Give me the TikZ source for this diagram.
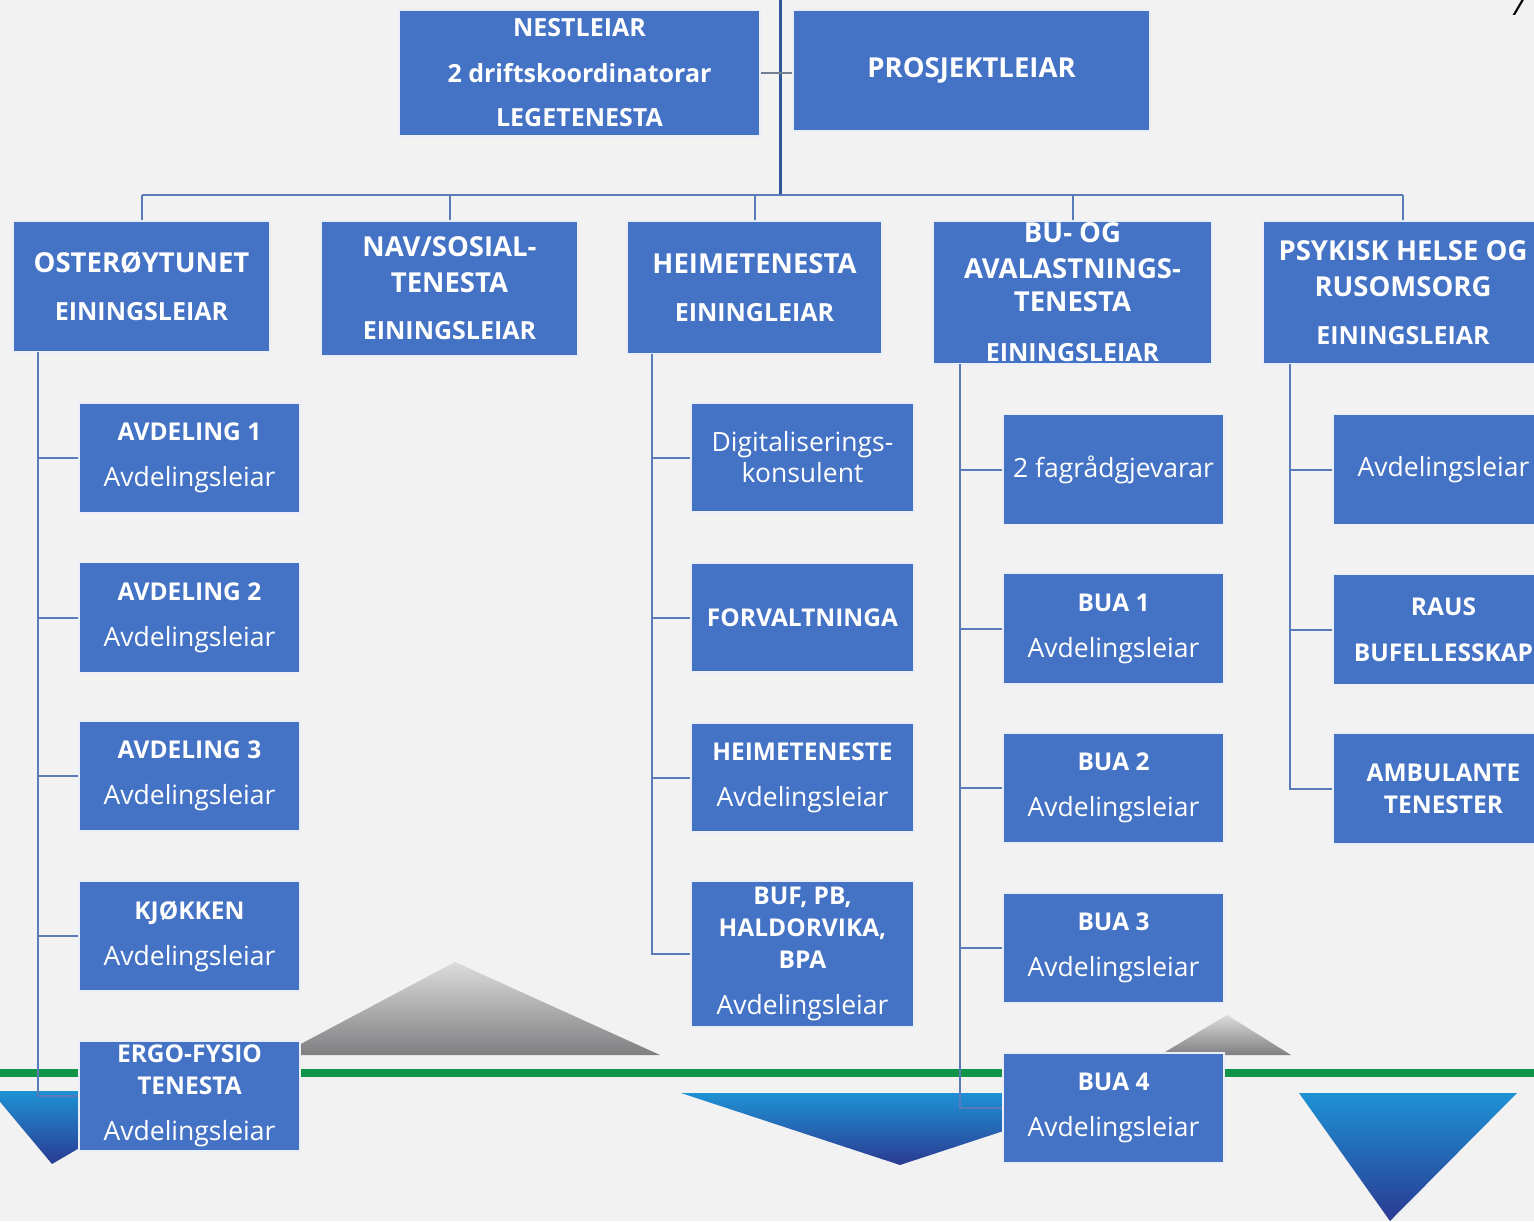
\documentclass[tikz,border=0pt]{standalone}
\usepackage{fontspec}
\setmainfont{Open Sans}
\definecolor{bg}{HTML}{F2F2F2}
\definecolor{boxblue}{HTML}{4472C4}
\definecolor{conn}{HTML}{5A7BBA}
\definecolor{trunk}{HTML}{2F5597}
\definecolor{lineg}{HTML}{109447}
\definecolor{greyT}{HTML}{DCDCDC}
\definecolor{greyB}{HTML}{7F7F81}
\definecolor{blueT}{HTML}{1E92D4}
\definecolor{blueB}{HTML}{2B3A92}
\newcommand\bt[1]{{\fontsize{24.5}{32}\selectfont\bfseries #1}}
\newcommand\sml[1]{{\fontsize{25}{33}\selectfont #1}}
\begin{document}
\begin{tikzpicture}[x=1pt,y=-1pt,
  box/.style={fill=boxblue, draw=white!88!boxblue, line width=1.2pt, text=white, align=center, inner sep=0pt, anchor=center},
  hd/.style={font=\fontsize{27.5}{36}\selectfont\bfseries},
  ch/.style={font=\fontsize{26.5}{32}\selectfont},
  cw/.style={minimum width=221pt, minimum height=110pt},
  conline/.style={draw=conn, line width=2pt},
  trunkline/.style={draw=trunk, line width=3pt}]
\clip (0,0) rectangle (1534,1221);
\fill[bg] (0,0) rectangle (1534,1221);
% decorative triangles
\shade[top color=greyT, bottom color=greyB] (455,962) -- (660,1055) -- (280,1055) -- cycle;
\shade[top color=greyT, bottom color=greyB] (1227,1015) -- (1291,1055) -- (1160,1055) -- cycle;
\shade[top color=blueT, bottom color=blueB] (-9,1091) -- (177,1091) -- (52,1164) -- cycle;
\shade[top color=blueT, bottom color=blueB] (681,1093) -- (1119,1093) -- (900,1165) -- cycle;
\shade[top color=blueT, bottom color=blueB] (1299,1093) -- (1517,1093) -- (1390,1221) -- cycle;
% green line
\fill[lineg] (0,1069) rectangle (1534,1077);
% page number fragment
\node[anchor=base west, inner sep=0pt, font=\fontsize{30}{30}\selectfont\itshape, text=black] (pg) at (1510,15) {7};
% top row
\node[box, font=\fontsize{25}{46}\selectfont\bfseries, minimum width=361pt, minimum height=126pt] (nest) at (579.5,73)
  {NESTLEIAR\\2 driftskoordinatorar\\[-2pt]LEGETENESTA};
\node[box, font=\fontsize{27.5}{33}\selectfont\bfseries, minimum width=357pt, minimum height=121pt] (pros) at (971.5,70.5)
  {PROSJEKTLEIAR};
% level 2
\node[box, hd, minimum width=257pt, minimum height=131pt] (oster) at (141.5,286.5) {OSTERØYTUNET\\[12pt]\sml{EININGSLEIAR}};
\node[box, hd, minimum width=257pt, minimum height=135pt] (nav) at (449.5,288.5) {NAV/SOSIAL-\\TENESTA\\[11pt]\sml{EININGSLEIAR}};
\node[box, hd, minimum width=255pt, minimum height=133pt] (heim) at (754.5,287.5) {HEIMETENESTA\\[12pt]\sml{EININGLEIAR}};
\node[box, hd, minimum width=279pt, minimum height=143pt] (bu) at (1072.5,292.5) {BU- OG\\AVALASTNINGS-\\[-3pt]TENESTA\\[14pt]\sml{EININGSLEIAR}};
\node[box, hd, minimum width=280pt, minimum height=143pt] (psyk) at (1403,292.5) {PSYKISK HELSE OG\\RUSOMSORG\\[12pt]\sml{EININGSLEIAR}};
% Osterøytunet children
\node[box, ch, cw] (av1) at (189.5,458) {\bt{AVDELING 1}\\[14pt]Avdelingsleiar};
\node[box, ch, cw] (av2) at (189.5,617.5) {\bt{AVDELING 2}\\[14pt]Avdelingsleiar};
\node[box, ch, cw] (av3) at (189.5,776) {\bt{AVDELING 3}\\[14pt]Avdelingsleiar};
\node[box, ch, cw] (kjo) at (189.5,936) {\bt{KJØKKEN}\\[14pt]Avdelingsleiar};
\node[box, ch, cw] (ergo) at (189.5,1096) {\bt{ERGO-FYSIO}\\\bt{TENESTA}\\[14pt]Avdelingsleiar};
% Heimetenesta children
\node[box, ch, minimum width=223pt, minimum height=109pt] (dig) at (802.5,457.5) {Digitaliserings-\\[-1pt]konsulent};
\node[box, ch, minimum width=223pt, minimum height=109pt] (forv) at (802.5,617.5) {\bt{FORVALTNINGA}};
\node[box, ch, minimum width=223pt, minimum height=109pt] (heimt) at (802.5,777.5) {\bt{HEIMETENESTE}\\[14pt]Avdelingsleiar};
\node[box, ch, minimum width=223pt, minimum height=146pt] (buf) at (802.5,954) {\bt{BUF, PB,}\\\bt{HALDORVIKA,}\\\bt{BPA}\\[14pt]Avdelingsleiar};
% BU children
\node[box, ch, cw] (fag) at (1113.5,469.5) {2 fagrådgjevarar};
\node[box, ch, cw, minimum height=111pt] (bua1) at (1113.5,628.5) {\bt{BUA 1}\\[14pt]Avdelingsleiar};
\node[box, ch, cw] (bua2) at (1113.5,788) {\bt{BUA 2}\\[14pt]Avdelingsleiar};
\node[box, ch, cw] (bua3) at (1113.5,948) {\bt{BUA 3}\\[14pt]Avdelingsleiar};
\node[box, ch, cw] (bua4) at (1113.5,1108) {\bt{BUA 4}\\[14pt]Avdelingsleiar};
% Psykisk children
\node[box, ch, cw] (pav) at (1443.5,469.5) {Avdelingsleiar};
\node[box, ch, cw] (raus) at (1443.5,629.5) {\bt{RAUS}\\[14pt]\bt{BUFELLESSKAP}};
\node[box, ch, cw, minimum height=111pt] (amb) at (1443.5,788.5) {\bt{AMBULANTE}\\\bt{TENESTER}};
% connectors
\coordinate (top) at (780,0);
\coordinate (bus) at (780,195);
\coordinate (busL) at (141.5,195);
\coordinate (busR) at (1403,195);
\draw[trunkline] (top) -- (bus);
\draw[conline, draw=gray!70!conn] (nest.east) -- (nest.east -| pros.west);
\draw[conline] (busL) -- (busR);
\foreach \n in {oster,nav,heim,bu,psyk} \draw[conline] (\n.north) -- (\n.north |- bus);
% left column
\coordinate (oc) at (38,352);
\draw[conline] (oc) |- (ergo.west);
\foreach \n in {av1,av2,av3,kjo} \draw[conline] (\n.west) -- (\n.west -| oc);
% heim column
\coordinate (hc) at (652,354);
\draw[conline] (hc) |- (buf.west);
\foreach \n in {dig,forv,heimt} \draw[conline] (\n.west) -- (\n.west -| hc);
% bu column
\coordinate (bc) at (960,364);
\draw[conline] (bc) |- (bua4.west);
\foreach \n in {fag,bua1,bua2,bua3} \draw[conline] (\n.west) -- (\n.west -| bc);
% psyk column
\coordinate (pc) at (1290,364);
\draw[conline] (pc) |- (amb.west);
\foreach \n in {pav,raus} \draw[conline] (\n.west) -- (\n.west -| pc);
\end{tikzpicture}
\end{document}
